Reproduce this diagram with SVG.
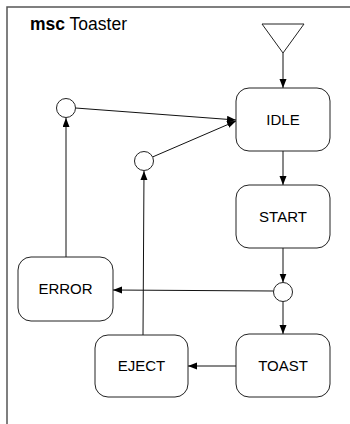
<svg xmlns="http://www.w3.org/2000/svg" width="350" height="424" viewBox="0 0 350 424">
  <style>
    .frame { fill: none; stroke: #555; stroke-width: 1.5; }
    .state rect { fill: #fff; stroke: #222; stroke-width: 1; }
    .state text { font-family: "Liberation Sans", Arial, sans-serif; font-size: 15px; fill: #000; text-anchor: middle; }
    .junction { fill: #fff; stroke: #222; stroke-width: 1; }
    .edge { fill: none; stroke: #111; stroke-width: 1; marker-end: url(#arrow); }
    .title { font-family: "Liberation Sans", Arial, sans-serif; font-size: 17.5px; fill: #000; }
  </style>
  <defs>
    <marker id="arrow" markerUnits="userSpaceOnUse" markerWidth="10" markerHeight="8" refX="9" refY="3.5" orient="auto">
      <path d="M0,0 L9,3.5 L0,7 Z" fill="#000"/>
    </marker>
  </defs>

  <rect width="350" height="424" fill="#fff"/>
  <!-- diagram frame, running off the right and bottom edges -->
  <path class="frame" d="M7,430 V7 H356"/>
  <text class="title" x="30" y="30"><tspan font-weight="bold">msc</tspan> Toaster</text>

  <!-- connectors -->
  <g id="connectors">
    <line class="edge" x1="283" y1="53" x2="283" y2="88"/>
    <line class="edge" x1="283" y1="151" x2="283" y2="185"/>
    <line class="edge" x1="283" y1="248" x2="283" y2="282.5"/>
    <line class="edge" x1="283" y1="301.5" x2="283" y2="334"/>
    <line class="edge" x1="273.5" y1="291" x2="113" y2="290"/>
    <line class="edge" x1="236" y1="366" x2="188" y2="366"/>
    <line class="edge" x1="143" y1="335" x2="144" y2="171"/>
    <line class="edge" x1="66" y1="257" x2="66" y2="118"/>
    <line class="edge" x1="75.5" y1="108" x2="236" y2="120"/>
    <line class="edge" x1="152.5" y1="157" x2="236" y2="121"/>
  </g>

  <!-- start marker -->
  <g id="start">
    <polygon class="junction" points="262,24 304,24 283,53"/>
  </g>

  <!-- junction points -->
  <g id="j-error"><circle class="junction" cx="66" cy="108" r="9.5"/></g>
  <g id="j-eject"><circle class="junction" cx="144" cy="161" r="9.5"/></g>
  <g id="j-start"><circle class="junction" cx="283" cy="292" r="9.5"/></g>

  <!-- states -->
  <g id="idle" class="state">
    <rect x="236" y="88" width="94" height="63" rx="13"/>
    <text x="283" y="125">IDLE</text>
  </g>
  <g id="start-state" class="state">
    <rect x="236" y="185" width="94" height="63" rx="13"/>
    <text x="283" y="222">START</text>
  </g>
  <g id="toast" class="state">
    <rect x="236" y="334" width="94" height="63" rx="13"/>
    <text x="283" y="371">TOAST</text>
  </g>
  <g id="eject" class="state">
    <rect x="95" y="335" width="93" height="62" rx="13"/>
    <text x="141.5" y="371">EJECT</text>
  </g>
  <g id="error" class="state">
    <rect x="18" y="257" width="95" height="64" rx="13"/>
    <text x="65.5" y="294">ERROR</text>
  </g>
</svg>
